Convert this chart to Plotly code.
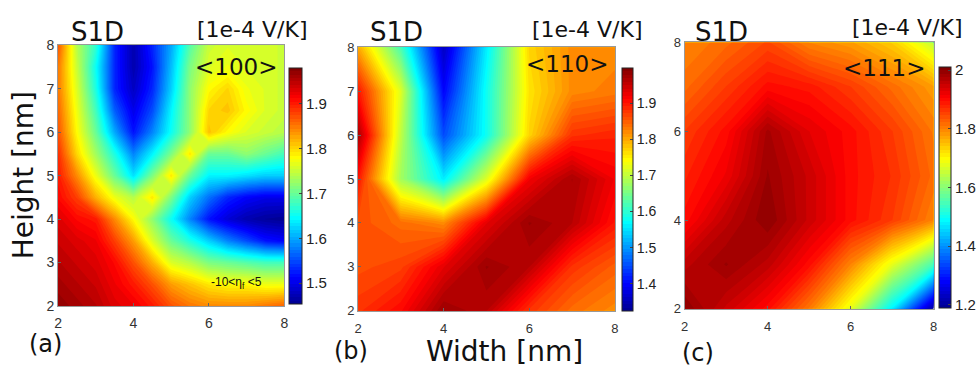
import plotly.graph_objects as go

# ---- data ----
# panel (a) <100> read on a 0.5 nm grid
widths_a = [2, 2.5, 3, 3.5, 4, 4.5, 5, 5.5, 6, 6.5, 7, 7.5, 8]
heights_a = [2, 2.5, 3, 3.5, 4, 4.5, 5, 5.5, 6, 6.5, 7, 7.5, 8]
# panels (b) <110> and (c) <111> read on a 1 nm grid
widths = [2, 3, 4, 5, 6, 7, 8]
heights = [2, 3, 4, 5, 6, 7, 8]

# rows: height low -> high, columns: width low -> high   (S1D in 1e-4 V/K)
s1d_100 = [
    [1.97, 1.96, 1.95, 1.93, 1.92, 1.90, 1.87, 1.85, 1.84, 1.84, 1.84, 1.85, 1.86],  # h=2
    [1.96, 1.95, 1.94, 1.92, 1.90, 1.87, 1.83, 1.81, 1.79, 1.78, 1.78, 1.77, 1.77],  # 2.5
    [1.95, 1.94, 1.93, 1.91, 1.87, 1.82, 1.76, 1.74, 1.71, 1.70, 1.69, 1.68, 1.68],  # 3
    [1.94, 1.93, 1.92, 1.88, 1.83, 1.76, 1.70, 1.66, 1.62, 1.58, 1.55, 1.52, 1.51],  # 3.5
    [1.93, 1.91, 1.90, 1.84, 1.78, 1.72, 1.65, 1.58, 1.52, 1.49, 1.47, 1.46, 1.455],  # 4
    [1.91, 1.88, 1.82, 1.77, 1.74, 1.79, 1.71, 1.62, 1.57, 1.53, 1.51, 1.50, 1.50],  # 4.5
    [1.90, 1.84, 1.77, 1.70, 1.63, 1.71, 1.79, 1.70, 1.64, 1.64, 1.63, 1.62, 1.62],  # 5
    [1.89, 1.80, 1.73, 1.66, 1.58, 1.64, 1.71, 1.79, 1.70, 1.70, 1.72, 1.70, 1.68],  # 5.5
    [1.87, 1.78, 1.70, 1.60, 1.52, 1.58, 1.65, 1.72, 1.81, 1.78, 1.76, 1.75, 1.74],  # 6
    [1.86, 1.77, 1.68, 1.56, 1.50, 1.55, 1.64, 1.72, 1.80, 1.81, 1.78, 1.76, 1.75],  # 6.5
    [1.85, 1.76, 1.66, 1.53, 1.48, 1.53, 1.62, 1.72, 1.78, 1.80, 1.77, 1.76, 1.75],  # 7
    [1.85, 1.75, 1.65, 1.53, 1.47, 1.52, 1.61, 1.71, 1.76, 1.77, 1.76, 1.76, 1.75],  # 7.5
    [1.87, 1.74, 1.67, 1.53, 1.47, 1.53, 1.60, 1.69, 1.75, 1.76, 1.76, 1.76, 1.75],  # 8
]
s1d_110 = [
    [1.88, 1.91, 1.98, 1.96, 1.88, 1.84, 1.82],
    [1.86, 1.87, 1.93, 1.98, 1.96, 1.88, 1.85],
    [1.86, 1.84, 1.82, 1.93, 1.98, 1.96, 1.90],
    [1.90, 1.68, 1.56, 1.72, 1.92, 1.97, 1.92],
    [1.97, 1.70, 1.45, 1.58, 1.77, 1.88, 1.89],
    [1.90, 1.72, 1.40, 1.58, 1.76, 1.82, 1.83],
    [1.80, 1.62, 1.36, 1.56, 1.77, 1.82, 1.82],
]
s1d_111 = [
    [2.00, 1.95, 1.90, 1.81, 1.68, 1.48, 1.20],
    [1.96, 1.99, 1.96, 1.90, 1.80, 1.68, 1.55],
    [1.90, 1.96, 2.00, 1.95, 1.90, 1.86, 1.80],
    [1.88, 1.92, 1.99, 1.95, 1.90, 1.87, 1.82],
    [1.86, 1.90, 1.98, 1.93, 1.90, 1.86, 1.81],
    [1.82, 1.86, 1.90, 1.89, 1.86, 1.82, 1.78],
    [1.80, 1.82, 1.85, 1.80, 1.78, 1.74, 1.65],
]

cranges = [(1.453, 1.979), (1.326, 1.998), (1.19, 2.012)]
cbar_ticks = [[1.5, 1.6, 1.7, 1.8, 1.9],
              [1.4, 1.5, 1.6, 1.7, 1.8, 1.9],
              [1.2, 1.4, 1.6, 1.8, 2.0]]
cbar_ticktext = [["1.5", "1.6", "1.7", "1.8", "1.9"],
                 ["1.4", "1.5", "1.6", "1.7", "1.8", "1.9"],
                 ["1.2", "1.4", "1.6", "1.8", "2"]]
orientations = ["<100>", "<110>", "<111>"]
panel_labels = ["(a)", "(b)", "(c)"]
x_ticks = [2, 4, 6, 8]
y_ticks = [[2, 3, 4, 5, 6, 7, 8], [2, 3, 4, 5, 6, 7, 8], [2, 4, 6, 8]]

# ---- layout geometry (pixels) ----
W, H = 980, 382
def px(x):
    return x / W
def py(y):
    return 1 - y / H

plots = [  # x0, x1, y0(top), y1(bottom)
    (55, 285, 39, 311),
    (360, 621, 41, 316),
    (692, 945, 36, 314),
]
cbars = [  # left, thickness, top, bottom
    (290, 13, 63, 309),
    (628, 11, 62, 316),
    (951, 12, 61, 313),
]

jet = [
    [0.0, "rgb(0,0,143)"],
    [0.111, "rgb(0,0,255)"],
    [0.365, "rgb(0,255,255)"],
    [0.619, "rgb(255,255,0)"],
    [0.873, "rgb(255,0,0)"],
    [1.0, "rgb(128,0,0)"],
]

fig = go.Figure()
zs = [s1d_100, s1d_110, s1d_111]
xs = [widths_a, widths, widths]
ys = [heights_a, heights, heights]
tick_fonts = [14, 13, 13]
cb_fonts = [15, 14, 15]
x_standoff = [4, 6, 6]

for i in range(3):
    lo, hi = cranges[i]
    cl, th, ct, cb = cbars[i]
    xa = "x" if i == 0 else f"x{i+1}"
    ya = "y" if i == 0 else f"y{i+1}"
    fig.add_trace(go.Contour(
        x=xs[i], y=ys[i], z=zs[i],
        xaxis=xa, yaxis=ya,
        colorscale=jet, zmin=lo, zmax=hi,
        autocontour=False,
        contours=dict(start=lo, end=hi, size=(hi - lo) / 70,
                      coloring="fill", showlines=False),
        line=dict(width=0, smoothing=0),
        colorbar=dict(
            x=px(cl), xanchor="left", xpad=0,
            y=py((ct + cb) / 2), yanchor="middle", ypad=0,
            len=(cb - ct) / H, lenmode="fraction",
            thickness=th, thicknessmode="pixels",
            outlinewidth=1, outlinecolor="#222",
            tickvals=cbar_ticks[i], ticktext=cbar_ticktext[i],
            ticks="inside", ticklen=3, tickcolor="#444",
            tickfont=dict(family="Liberation Sans", size=cb_fonts[i], color="#222"),
        ),
        hoverinfo="skip",
    ))

layout = dict(
    width=W, height=H,
    margin=dict(l=0, r=0, t=0, b=0),
    paper_bgcolor="white", plot_bgcolor="white",
    showlegend=False,
)
for i in range(3):
    x0, x1, t, b = plots[i]
    kx = "xaxis" if i == 0 else f"xaxis{i+1}"
    ky = "yaxis" if i == 0 else f"yaxis{i+1}"
    ya = "y" if i == 0 else f"y{i+1}"
    xa = "x" if i == 0 else f"x{i+1}"
    layout[kx] = dict(
        domain=[px(x0), px(x1)], anchor=ya, range=[2, 8],
        tickvals=x_ticks, showgrid=False, zeroline=False,
        showline=True, mirror=True, linecolor="#999", linewidth=1,
        ticks="inside", ticklen=3, tickcolor="#666",
        ticklabelstandoff=x_standoff[i],
        tickfont=dict(family="Liberation Sans", size=tick_fonts[i], color="#333"),
    )
    layout[ky] = dict(
        domain=[py(b), py(t)], anchor=xa, range=[2, 8],
        tickvals=y_ticks[i], showgrid=False, zeroline=False,
        showline=True, mirror=True, linecolor="#999", linewidth=1,
        ticks="inside", ticklen=3, tickcolor="#666",
        tickfont=dict(family="Liberation Sans", size=tick_fonts[i], color="#333"),
    )
fig.update_layout(**layout)

def ann(text, x, y, size, family="DejaVu Sans", angle=0, color="#111"):
    fig.add_annotation(text=text, x=px(x), y=py(y), xref="paper", yref="paper",
                       xanchor="center", yanchor="middle", showarrow=False,
                       textangle=angle, borderpad=0,
                       font=dict(family=family, size=size, color=color))

def esc(s):
    return s.replace("<", "&lt;").replace(">", "&gt;")

s1d_x = [95, 399, 729]
s1d_y = [25, 25, 25]
unit_x = [253, 593, 918]
unit_y = [22, 22, 20]
orient_x = [236, 572, 895]
orient_y = [62, 58, 63]
lab_x = [42, 353, 706]
lab_y = [351, 358, 360]
for i in range(3):
    ann("S1D", s1d_x[i], s1d_y[i], 26)
    ann("[1e-4 V/K]", unit_x[i], unit_y[i], 22)
    ann(esc(orientations[i]), orient_x[i], orient_y[i], 23)
    ann(panel_labels[i], lab_x[i], lab_y[i], 24)

ann("Height [nm]", 20, 175, 28, angle=-90)
ann("Width [nm]", 509, 359, 28)
ann("-10&lt;η<sub>f</sub> &lt;5", 236, 287, 12, family="Liberation Sans")

fig.write_html("out.html")
